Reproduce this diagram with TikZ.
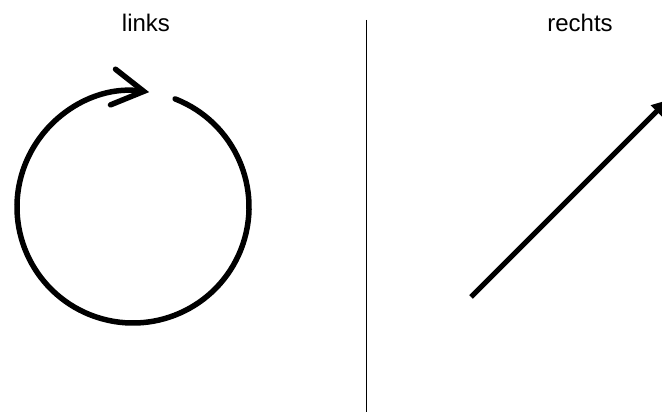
\documentclass[tikz,border=0pt]{standalone}
\usepackage{fontspec}
\setmainfont{Liberation Sans}
\usepackage{tikz}
\usetikzlibrary{arrows.meta}
\tikzset{
  label/.style={font=\fontsize{24}{28}\selectfont,inner sep=0pt,anchor=base},
  turn/.style={line width=5.5pt,line cap=round,-{Straight Barb[length=31pt,width=36pt,line cap=round]}},
  move/.style={line width=5pt,-{Triangle[length=16pt,width=16pt]}}
}

\begin{document}
\begin{tikzpicture}[x=1pt,y=-1pt]
\useasboundingbox (0,0) rectangle (662,414);
\clip (0,0) rectangle (662,414);
% titles
\node[label] (links) at (146,32) {links};
\node[label] (rechts) at (580,32) {rechts};
% divider
\draw[line width=1pt] (366.5,20) -- (366.5,412);
% left: turning around
\coordinate (mid) at (133,207);
\draw[turn] (mid) ++(-68.7:116) arc[start angle=-68.7,end angle=278,radius=116];
% right: going straight on
\coordinate (start) at (471,297);
\coordinate (tip) at (668,100);
\draw[move] (start) -- (tip);
\end{tikzpicture}
\end{document}
